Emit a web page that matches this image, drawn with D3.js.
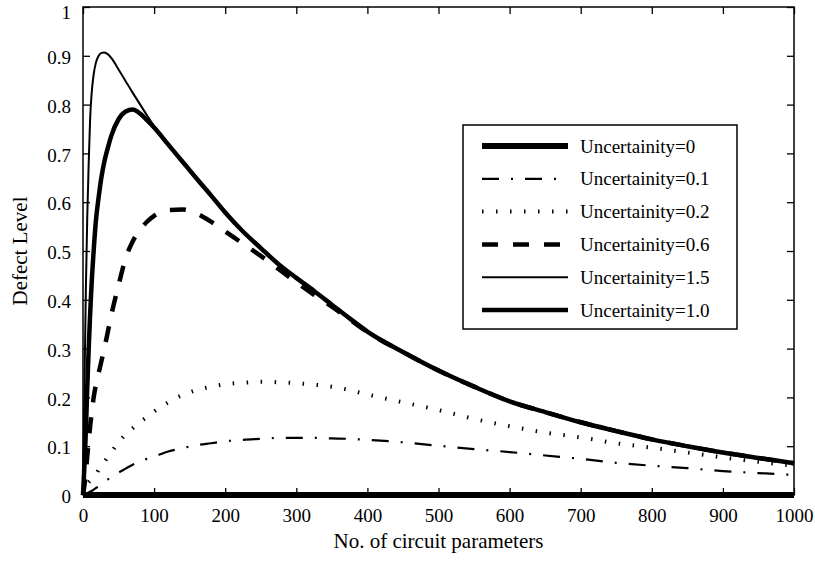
<!DOCTYPE html>
<html>
<head>
<meta charset="utf-8">
<script src="https://cdn.jsdelivr.net/npm/d3@7"></script>
<style>
  body { margin: 0; background: #fff; }
  text { font-family: "Liberation Serif", "Times New Roman", serif; fill: #000; }
</style>
</head>
<body>
<svg id="chart"></svg>
<script>
const nGrid = [0, 2, 4, 6, 8, 10, 12, 15, 18, 22, 26, 30, 35, 40, 50, 60, 70, 80, 90, 100,
  120, 140, 160, 180, 200, 225, 250, 275, 300, 325, 350, 375, 400, 450, 500,
  550, 600, 650, 700, 750, 800, 850, 900, 950, 1000];

const u00 = nGrid.map(() => 0);
const u01 = [0, 0.001, 0.002, 0.004, 0.005, 0.007, 0.008, 0.011, 0.014, 0.018, 0.023, 0.027, 0.032, 0.037, 0.046, 0.054, 0.062, 0.068, 0.074, 0.079,
  0.089, 0.096, 0.102, 0.106, 0.11, 0.113, 0.115, 0.117, 0.117, 0.117, 0.116, 0.115, 0.113, 0.108, 0.101,
  0.094, 0.088, 0.081, 0.074, 0.066, 0.06, 0.055, 0.049, 0.045, 0.041];
const u02 = [0, 0.01, 0.017, 0.022, 0.026, 0.029, 0.031, 0.034, 0.04, 0.052, 0.06, 0.068, 0.078, 0.088, 0.108, 0.124, 0.137, 0.149, 0.16, 0.171,
  0.19, 0.205, 0.215, 0.222, 0.227, 0.23, 0.232, 0.231, 0.229, 0.226, 0.222, 0.215, 0.206, 0.19, 0.174,
  0.156, 0.141, 0.128, 0.118, 0.106, 0.097, 0.087, 0.077, 0.068, 0.06];
const u06 = [0, 0.02, 0.045, 0.08, 0.11, 0.14, 0.165, 0.2, 0.225, 0.25, 0.275, 0.3, 0.335, 0.37, 0.43, 0.485, 0.52, 0.543, 0.56, 0.572,
  0.584, 0.585, 0.577, 0.56, 0.54, 0.515, 0.49, 0.463, 0.436, 0.41, 0.386, 0.36, 0.334, 0.293, 0.255,
  0.222, 0.192, 0.17, 0.149, 0.131, 0.114, 0.1, 0.087, 0.076, 0.065];
const u15 = [0, 0.22, 0.42, 0.57, 0.68, 0.77, 0.82, 0.862, 0.885, 0.9, 0.906, 0.907, 0.903, 0.895, 0.872, 0.848, 0.824, 0.801, 0.778, 0.756,
  0.719, 0.683, 0.648, 0.614, 0.579, 0.54, 0.506, 0.473, 0.445, 0.418, 0.39, 0.362, 0.335, 0.293, 0.255,
  0.222, 0.192, 0.17, 0.149, 0.131, 0.114, 0.1, 0.087, 0.076, 0.065];
const u10 = [0, 0.06, 0.13, 0.22, 0.3, 0.37, 0.43, 0.5, 0.56, 0.61, 0.652, 0.683, 0.712, 0.737, 0.77, 0.786, 0.79, 0.782, 0.768, 0.753,
  0.718, 0.683, 0.648, 0.614, 0.579, 0.54, 0.506, 0.473, 0.445, 0.418, 0.39, 0.362, 0.335, 0.293, 0.255,
  0.222, 0.192, 0.17, 0.149, 0.131, 0.114, 0.1, 0.087, 0.076, 0.065];

const seriesNames = ["Uncertainity=0", "Uncertainity=0.1", "Uncertainity=0.2", "Uncertainity=0.6", "Uncertainity=1.5", "Uncertainity=1.0"];
const seriesValues = [u00, u01, u02, u06, u15, u10];
const xTicks = [0, 100, 200, 300, 400, 500, 600, 700, 800, 900, 1000];
const yTicks = [0, 0.1, 0.2, 0.3, 0.4, 0.5, 0.6, 0.7, 0.8, 0.9, 1];

// line styles, same order as the series
const styles = [
  { width: 6, dash: null },
  { width: 2.2, dash: "17,12,2,12" },
  { width: 4, dash: "1.5,12.5" },
  { width: 4.5, dash: "16,15" },
  { width: 2, dash: null },
  { width: 4.5, dash: null }
];

const W = 815, H = 563;
const margin = { top: 7, right: 21, bottom: 68, left: 83 };
const width = W - margin.left - margin.right;
const height = H - margin.top - margin.bottom;

const svg = d3.select("#chart").attr("width", W).attr("height", H);
const g = svg.append("g").attr("transform", `translate(${margin.left},${margin.top})`);

const x = d3.scaleLinear().domain([0, 1000]).range([0, width]);
const y = d3.scaleLinear().domain([0, 1]).range([height, 0]);

const line = d3.line()
  .x((d) => x(d[0]))
  .y((d) => y(d[1]))
  .curve(d3.curveMonotoneX);

seriesValues.forEach((vals, i) => {
  g.append("path")
    .datum(nGrid.map((n, j) => [n, vals[j]]))
    .attr("fill", "none")
    .attr("stroke", "#000")
    .attr("stroke-width", styles[i].width)
    .attr("stroke-dasharray", styles[i].dash)
    .attr("d", line);
});

// axes, ticks pointing inward on all four sides
const tickLen = 7;
const fmtY = (d) => (d === 0 || d === 1 ? String(d) : d.toFixed(1));

g.append("g")
  .attr("transform", `translate(0,${height})`)
  .call(d3.axisBottom(x).tickValues(xTicks).tickSizeInner(-tickLen).tickSizeOuter(0).tickPadding(14).tickFormat(d3.format("d")))
  .call((a) => a.select(".domain").remove())
  .selectAll("text").style("font-size", "19px");

g.append("g")
  .call(d3.axisTop(x).tickValues(xTicks).tickSizeInner(-tickLen).tickSizeOuter(0).tickFormat(""))
  .call((a) => a.select(".domain").remove());

g.append("g")
  .call(d3.axisLeft(y).tickValues(yTicks).tickSizeInner(-tickLen).tickSizeOuter(0).tickPadding(12).tickFormat(fmtY))
  .call((a) => a.select(".domain").remove())
  .selectAll("text")
  .style("font-size", "19px")
  .attr("dy", (d) => (d === 1 ? "0.6em" : "0.4em"));

g.append("g")
  .attr("transform", `translate(${width},0)`)
  .call(d3.axisRight(y).tickValues(yTicks).tickSizeInner(-tickLen).tickSizeOuter(0).tickFormat(""))
  .call((a) => a.select(".domain").remove());

g.selectAll(".tick line").attr("stroke", "#000").attr("stroke-width", 1.3);

g.append("rect")
  .attr("width", width)
  .attr("height", height)
  .attr("fill", "none")
  .attr("stroke", "#000")
  .attr("stroke-width", 1.5);

svg.append("text")
  .attr("x", margin.left + width / 2)
  .attr("y", 548)
  .attr("text-anchor", "middle")
  .style("font-size", "21px")
  .text("No. of circuit parameters");

svg.append("text")
  .attr("transform", `translate(27,${margin.top + height / 2}) rotate(-90)`)
  .attr("text-anchor", "middle")
  .style("font-size", "21px")
  .text("Defect Level");

// legend
const legend = svg.append("g");
legend.append("rect")
  .attr("x", 463).attr("y", 125)
  .attr("width", 274).attr("height", 204)
  .attr("fill", "#fff")
  .attr("stroke", "#000")
  .attr("stroke-width", 1.5);

const rowY = d3.scaleLinear().domain([0, seriesNames.length - 1]).range([146, 310]);

seriesNames.forEach((name, i) => {
  const yy = rowY(i);
  legend.append("line")
    .attr("x1", 482).attr("x2", 568)
    .attr("y1", yy).attr("y2", yy)
    .attr("stroke", "#000")
    .attr("stroke-width", styles[i].width)
    .attr("stroke-dasharray", styles[i].dash);
  legend.append("text")
    .attr("x", 580)
    .attr("y", yy)
    .attr("dy", "0.35em")
    .style("font-size", "19px")
    .text(name);
});
</script>
</body>
</html>
